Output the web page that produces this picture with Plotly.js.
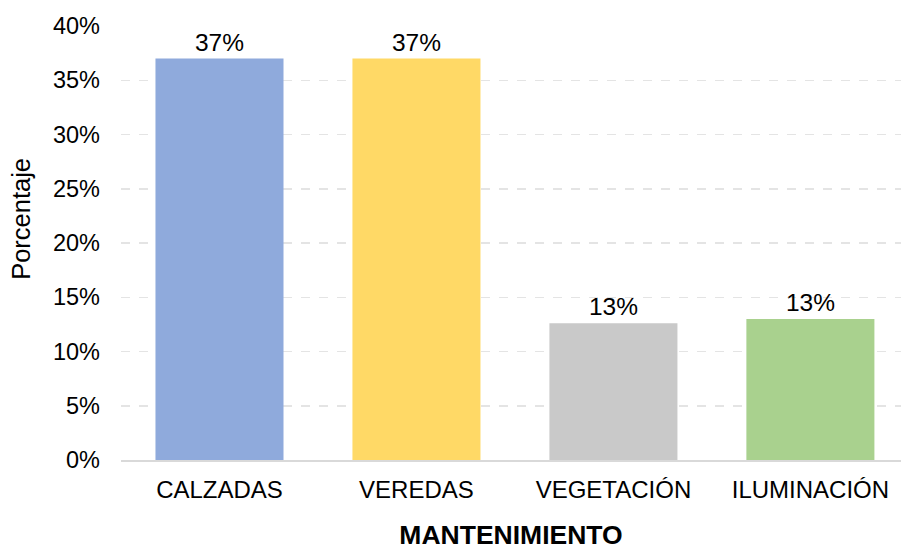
<!DOCTYPE html>
<html><head><meta charset="utf-8">
<script src="https://cdn.plot.ly/plotly-3.0.1.min.js"></script>
<style>html,body{margin:0;padding:0;background:#fff}</style>
</head><body>
<div id="chart" style="width:901px;height:550px"></div>
<script>
const categories = ["CALZADAS", "VEREDAS", "VEGETACIÓN", "ILUMINACIÓN"];
const values = [0.37, 0.37, 0.126, 0.13];
const colors = ["#8faadc", "#ffd966", "#c9c9c9", "#a9d18e"];
const yTickVals = [0, 0.05, 0.10, 0.15, 0.20, 0.25, 0.30, 0.35, 0.40];
const xTitle = "MANTENIMIENTO";
const yTitle = "Porcentaje";

const font = "Liberation Sans, Arial, sans-serif";
Plotly.newPlot("chart", [{
  type: "bar",
  x: categories,
  y: values,
  marker: {color: colors},
  text: values,
  texttemplate: "%{y:.0%}",
  textposition: "outside",
  cliponaxis: false,
  textfont: {family: font, size: 24.5, color: "#000"},
  hoverinfo: "none"
}], {
  width: 901, height: 550,
  margin: {l: 121, r: 0, t: 26, b: 90},
  paper_bgcolor: "#fff", plot_bgcolor: "#fff",
  bargap: 0.35,
  showlegend: false,
  font: {family: font, size: 22, color: "#000"},
  xaxis: {
    range: [-0.5, 3.46],
    showline: true, linecolor: "#d9d9d9", linewidth: 1.5,
    ticks: "", ticklabelstandoff: 8,
    tickfont: {family: font, size: 24, color: "#000"},
    title: {text: "<b>" + xTitle + "</b>", font: {family: font, size: 26.5, color: "#000"}, standoff: 26}
  },
  yaxis: {
    range: [0, 0.4],
    tickvals: yTickVals,
    tickformat: ".0%",
    showgrid: true, gridcolor: "#e4e4e4", griddash: "dash", gridwidth: 1.5,
    zeroline: false, showline: false, ticks: "",
    ticklabelstandoff: 20,
    tickfont: {family: font, size: 23.5, color: "#000"},
    automargin: false
  },
  annotations: [{
    text: yTitle, xref: "paper", yref: "paper",
    x: -0.128, y: 0.556, xanchor: "center", yanchor: "middle",
    textangle: -90, showarrow: false,
    font: {family: font, size: 25.5, color: "#000"}
  }]
}, {displayModeBar: false, staticPlot: true});
</script>
</body></html>
